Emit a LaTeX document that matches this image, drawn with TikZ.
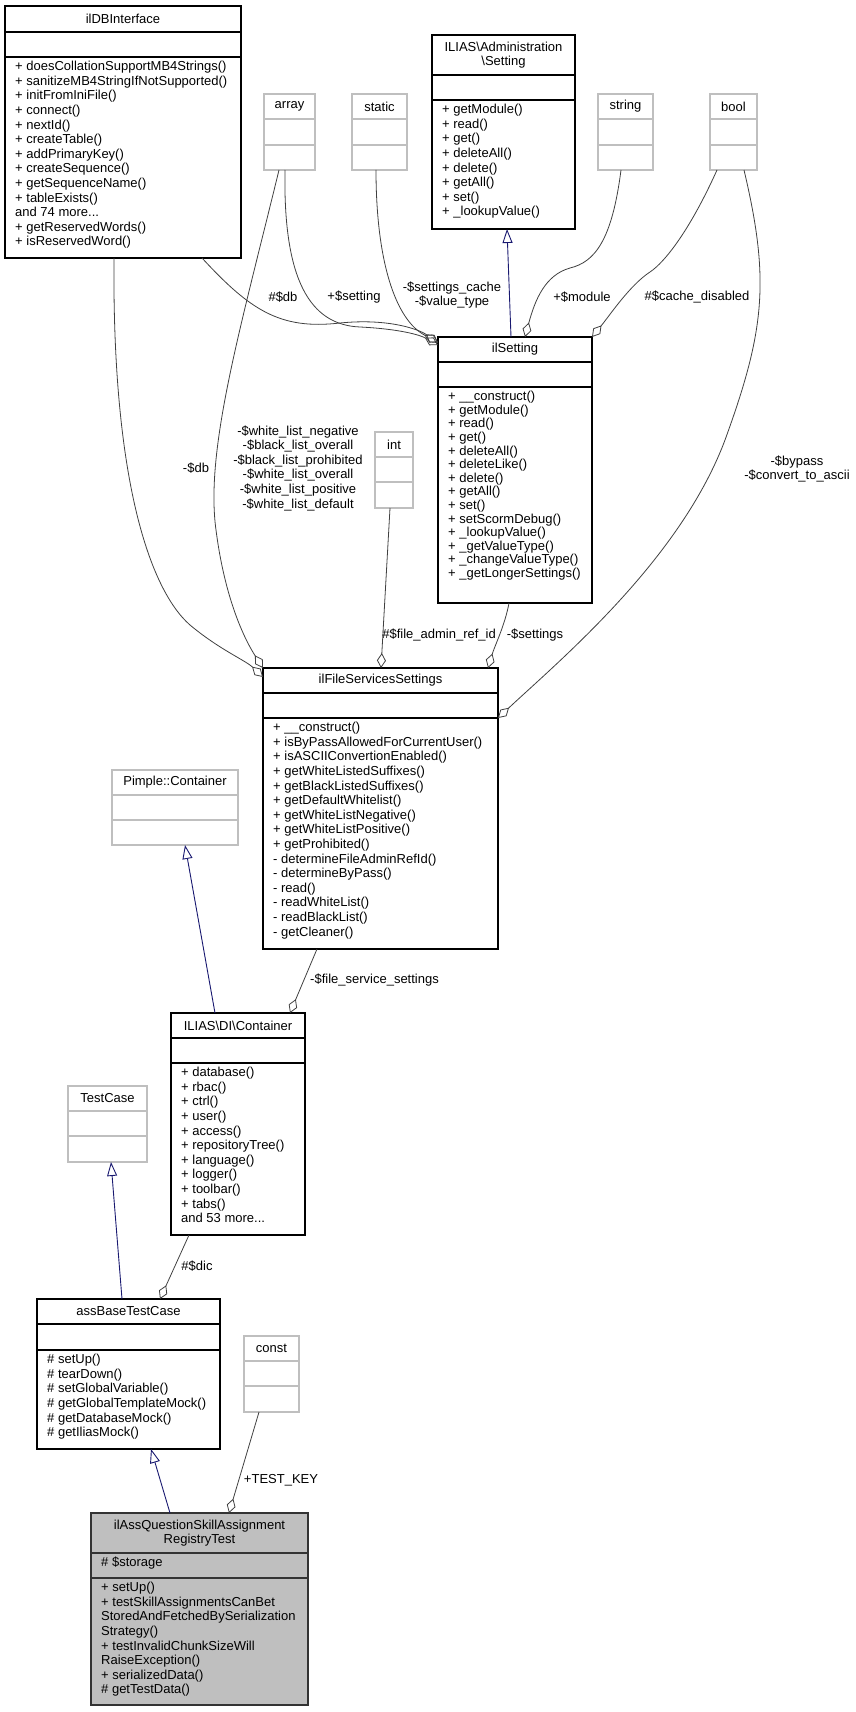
\documentclass[tikz,border=0pt]{standalone}
\usepackage{fontspec}
\setmainfont{Liberation Sans}
\usetikzlibrary{calc,arrows.meta,positioning}

\definecolor{edgegray}{RGB}{64,64,64}
\definecolor{extgray}{RGB}{191,191,191}
\definecolor{inhblue}{RGB}{25,25,112}
\definecolor{mainfill}{RGB}{191,191,191}

% class box: style, name, corner, width, title/attr/method heights, title, methods
\newcommand{\umlbox}[9]{%
  \node[#1, anchor=north west, inner sep=0pt, outer sep=0pt,
        minimum width={#4*1pt}, minimum height={(#5+#6+#7)*1pt}] (#2) at (#3) {};
  \draw[#1] ($(#2.north west)+(0,#5)$) -- ($(#2.north east)+(0,#5)$);
  \draw[#1] ($(#2.north west)+(0,#5+#6)$) -- ($(#2.north east)+(0,#5+#6)$);
  \node[title] at ($(#2.north)+(0,#5/2)$) {#8};
  \node[body] at ($(#2.north west)+(0,#5+#6)$) {#9};
}

\begin{document}
\begin{tikzpicture}[x=1pt, y=-1pt,
    font=\fontsize{13}{14.6}\selectfont,
    cls/.style={draw=black, line width=1.2pt},
    ext/.style={draw=extgray, line width=1.2pt},
    main/.style={draw=black!80, fill=mainfill, line width=1.2pt},
    title/.style={align=center, inner sep=0pt},
    body/.style={anchor=north west, align=left, inner xsep=10pt, inner ysep=4pt},
    lbl/.style={align=center, inner sep=1pt},
    agg/.style={draw=edgegray, line width=0.8pt, -{Diamond[open, length=15pt, width=9pt]}},
    inh/.style={draw=inhblue, line width=0.9pt, -{Triangle[open, length=14pt, width=10pt]}}]
    \useasboundingbox (0,0) rectangle (855,1712);

    % classes
    \umlbox{cls}{ilDBInterface}{5,6}{236}{26}{25}{201}{ilDBInterface}{+ doesCollationSupportMB4Strings()\\+ sanitizeMB4StringIfNotSupported()\\+ initFromIniFile()\\+ connect()\\+ nextId()\\+ createTable()\\+ addPrimaryKey()\\+ createSequence()\\+ getSequenceName()\\+ tableExists()\\and 74 more...\\+ getReservedWords()\\+ isReservedWord()}
    \umlbox{ext}{array}{264,94}{51}{25}{26}{25}{array}{}
    \umlbox{ext}{static}{352,94}{55}{25}{26}{25}{static}{}
    \umlbox{cls}{admSetting}{432,35}{143}{40}{25}{129}{ILIAS\textbackslash Administration\\\textbackslash Setting}{+ getModule()\\+ read()\\+ get()\\+ deleteAll()\\+ delete()\\+ getAll()\\+ set()\\+ \_lookupValue()}
    \umlbox{ext}{string}{598,94}{55}{25}{26}{25}{string}{}
    \umlbox{ext}{bool}{710,94}{47}{25}{26}{25}{bool}{}
    \begin{scope}[body/.append style={font=\fontsize{13}{13.6}\selectfont}]
    \umlbox{cls}{ilSetting}{438,337}{154}{25}{25}{216}{ilSetting}{+ \_\_construct()\\+ getModule()\\+ read()\\+ get()\\+ deleteAll()\\+ deleteLike()\\+ delete()\\+ getAll()\\+ set()\\+ setScormDebug()\\+ \_lookupValue()\\+ \_getValueType()\\+ \_changeValueType()\\+ \_getLongerSettings()}
    \end{scope}
    \umlbox{ext}{int}{375,432}{38}{25}{25}{26}{int}{}
    \umlbox{cls}{ilFSS}{263,668}{235}{25}{25}{231}{ilFileServicesSettings}{+ \_\_construct()\\+ isByPassAllowedForCurrentUser()\\+ isASCIIConvertionEnabled()\\+ getWhiteListedSuffixes()\\+ getBlackListedSuffixes()\\+ getDefaultWhitelist()\\+ getWhiteListNegative()\\+ getWhiteListPositive()\\+ getProhibited()\\- determineFileAdminRefId()\\- determineByPass()\\- read()\\- readWhiteList()\\- readBlackList()\\- getCleaner()}
    \umlbox{ext}{pimple}{112,770}{126}{25}{25}{25}{Pimple::Container}{}
    \umlbox{cls}{diContainer}{171,1013}{134}{25}{25}{172}{ILIAS\textbackslash DI\textbackslash Container}{+ database()\\+ rbac()\\+ ctrl()\\+ user()\\+ access()\\+ repositoryTree()\\+ language()\\+ logger()\\+ toolbar()\\+ tabs()\\and 53 more...}
    \umlbox{ext}{testCase}{68,1086}{79}{25}{25}{26}{TestCase}{}
    \umlbox{cls}{assBase}{37,1299}{183}{25}{26}{99}{assBaseTestCase}{\# setUp()\\\# tearDown()\\\# setGlobalVariable()\\\# getGlobalTemplateMock()\\\# getDatabaseMock()\\\# getIliasMock()}
    \umlbox{ext}{const}{244,1336}{55}{25}{25}{26}{const}{}
    \umlbox{main}{ilAss}{91,1513}{217}{40}{25}{127}{ilAssQuestionSkillAssignment\\RegistryTest}{+ setUp()\\+ testSkillAssignmentsCanBet\\StoredAndFetchedBySerialization\\Strategy()\\+ testInvalidChunkSizeWill\\RaiseException()\\+ serializedData()\\\# getTestData()}
    \node[body] (storage) at ($(ilAss.north west)+(0,40)$) {\# \$storage};

    % aggregations
    \draw[agg] ($(ilDBInterface.south west)+(197,0)$) .. controls (250,310) and (280,330) .. (340,323) .. controls (390,318) and (420,330) .. ($(ilSetting.north west)+(0,6)$);
    \draw[agg] ($(array.south west)+(21,0)$) .. controls (283,280) and (310,325) .. (360,327) .. controls (400,329) and (420,335) .. ($(ilSetting.north west)+(0,8)$);
    \draw[agg] ($(static.south west)+(24,0)$) .. controls (376,260) and (395,320) .. ($(ilSetting.north west)+(0,5)$);
    \draw[agg] ($(string.south west)+(23,0)$) .. controls (612,240) and (595,262) .. (570,268) .. controls (545,275) and (535,300) .. ($(ilSetting.north west)+(87,0)$);
    \draw[agg] ($(bool.south west)+(7,0)$) .. controls (690,230) and (665,262) .. (650,272) .. controls (630,285) and (610,315) .. (ilSetting.north east);
    \draw[agg] ($(ilDBInterface.south west)+(109,0)$) .. controls (112,480) and (150,590) .. (190,625) .. controls (220,650) and (245,660) .. ($(ilFSS.north west)+(0,9)$);
    \draw[agg] ($(array.south west)+(15,0)$) .. controls (240,330) and (205,450) .. (216,530) .. controls (225,600) and (245,640) .. (ilFSS.north west);
    \draw[agg] ($(int.south west)+(15,0)$) -- ($(ilFSS.north west)+(118,0)$);
    \draw[agg] ($(ilSetting.south west)+(71,0)$) .. controls (505,625) and (495,645) .. ($(ilFSS.north west)+(225,0)$);
    \draw[agg] ($(bool.south west)+(34,0)$) .. controls (770,280) and (765,330) .. (725,440) .. controls (680,560) and (560,660) .. ($(ilFSS.north east)+(0,50)$);
    \draw[agg] ($(ilFSS.south west)+(54,0)$) -- ($(diContainer.north west)+(119,0)$);
    \draw[agg] ($(diContainer.south west)+(18,0)$) -- ($(assBase.north west)+(123,0)$);
    \draw[agg] ($(const.south west)+(15,0)$) -- ($(ilAss.north west)+(138,0)$);

    % inheritance
    \draw[inh] ($(ilSetting.north west)+(73,0)$) -- ($(admSetting.south west)+(75,0)$);
    \draw[inh] ($(diContainer.north west)+(44,0)$) -- ($(pimple.south west)+(73,0)$);
    \draw[inh] ($(assBase.north west)+(85,0)$) -- ($(testCase.south west)+(43,0)$);
    \draw[inh] ($(ilAss.north west)+(79,0)$) -- ($(assBase.south west)+(114,0)$);

    % labels
    \node[lbl] (lDb) at (283,297) {\#\$db};
    \node[lbl] (lSetting) at (354,297) {+\$setting};
    \node[lbl] (lCache) at (452,295) {-\$settings\_cache\\-\$value\_type};
    \node[lbl] (lModule) at (582,297) {+\$module};
    \node[lbl] (lDisabled) at (697,297) {\#\$cache\_disabled};
    \node[lbl] (lDb2) at (196,468) {-\$db};
    \node[lbl] (lLists) at (298,468) {-\$white\_list\_negative\\-\$black\_list\_overall\\-\$black\_list\_prohibited\\-\$white\_list\_overall\\-\$white\_list\_positive\\-\$white\_list\_default};
    \node[lbl, anchor=east] (lRefId) at (497,635) {\#\$file\_admin\_ref\_id};
    \node[lbl] (lSettings) at (535,635) {-\$settings};
    \node[lbl] (lBypass) at (797,469) {-\$bypass\\-\$convert\_to\_ascii};
    \node[lbl, anchor=west] (lFss) at (309,980) {-\$file\_service\_settings};
    \node[lbl] (lDic) at (197,1266) {\#\$dic};
    \node[lbl] (lKey) at (281,1480) {+TEST\_KEY};
\end{tikzpicture}
\end{document}
